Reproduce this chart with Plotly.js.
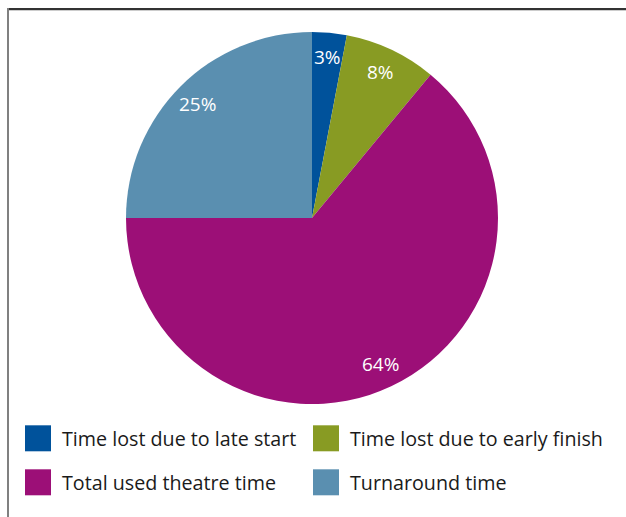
<!DOCTYPE html>
<html>
<head>
<meta charset="utf-8">
<script src="https://cdn.plot.ly/plotly-3.0.1.min.js"></script>
<style>
  html, body { margin: 0; padding: 0; background: #fff; }
  #wrap { position: relative; width: 626px; height: 517px; }
  #chart { width: 626px; height: 517px; }
  #frameTop { position: absolute; left: 7px; top: 8px; width: 619px; height: 2px; background: #333; }
  #frameTop2 { position: absolute; left: 7px; top: 10px; width: 619px; height: 1px; background: #ccc; }
  #frameLeft { position: absolute; left: 7px; top: 8px; width: 2px; height: 509px; background: #808080; }
</style>
</head>
<body>
<div id="wrap">
  <div id="chart"></div>
  <div id="frameTop"></div>
  <div id="frameTop2"></div>
  <div id="frameLeft"></div>
</div>
<script>
const categories = [
  "Time lost due to late start",
  "Time lost due to early finish",
  "Total used theatre time",
  "Turnaround time"
];
const values = [3, 8, 64, 25];
const colors = ["#00529B", "#889B23", "#9C0F77", "#5A8FB0"];

// pie geometry (pixels)
const W = 626, H = 517;
const CX = 312, CY = 218, R = 186;
const LABEL_R = 0.87;

const trace = {
  type: "pie",
  labels: categories,
  values: values,
  sort: false,
  direction: "clockwise",
  rotation: 0,
  marker: { colors: colors, line: { width: 0 } },
  textinfo: "none",
  hoverinfo: "label+percent",
  domain: { x: [(CX - R) / W, (CX + R) / W], y: [(H - CY - R) / H, (H - CY + R) / H] }
};

// percentage labels placed at each slice's mid angle
const total = values.reduce((a, b) => a + b, 0);
let cum = 0;
const annotations = values.map(function (v) {
  const mid = (cum + v / 2) / total * 2 * Math.PI;
  cum += v;
  const px = CX + R * LABEL_R * Math.sin(mid);
  const py = CY - R * LABEL_R * Math.cos(mid);
  return {
    xref: "paper", yref: "paper",
    x: px / W, y: (H - py) / H,
    xanchor: "center", yanchor: "middle",
    text: Math.round(v / total * 100) + "%",
    showarrow: false,
    font: { color: "#ffffff", size: 19, family: "Open Sans, sans-serif" }
  };
});

const layout = {
  width: W,
  height: H,
  margin: { l: 0, r: 0, t: 0, b: 0, pad: 0 },
  paper_bgcolor: "#ffffff",
  showlegend: true,
  annotations: annotations,
  legend: {
    orientation: "h",
    x: 22 / W,
    xanchor: "left",
    y: 1 - 419 / H,
    yanchor: "top",
    entrywidth: 243,
    entrywidthmode: "pixels",
    traceorder: "normal",
    font: { family: "Open Sans, sans-serif", size: 19.7, color: "#1a1a1a" },
    itemclick: false,
    itemdoubleclick: false
  }
};

Plotly.newPlot("chart", [trace], layout, { displayModeBar: false, staticPlot: true }).then(function (gd) {
  // enlarge legend swatches to match the reference squares
  gd.querySelectorAll(".legend .legendpoints path").forEach(function (p) {
    p.setAttribute("d", "M9,13H-17V-13H9Z");
  });
  // widen the row spacing of the legend
  const items = Array.from(gd.querySelectorAll(".legend .traces"));
  const pos = items.map(function (g) {
    const m = /translate\(\s*([-\d.]+)[ ,]+([-\d.]+)\s*\)/.exec(g.getAttribute("transform") || "");
    return m ? [parseFloat(m[1]), parseFloat(m[2])] : [0, 0];
  });
  const ys = Array.from(new Set(pos.map(p => p[1]))).sort((a, b) => a - b);
  if (ys.length > 1) {
    const y0 = ys[0], gap = ys[1] - ys[0];
    items.forEach(function (g, i) {
      const ny = y0 + (pos[i][1] - y0) / gap * 44;
      g.setAttribute("transform", "translate(" + pos[i][0] + "," + ny + ")");
    });
  }
  gd.querySelectorAll(".legend [clip-path]").forEach(function (el) { el.removeAttribute("clip-path"); });
  gd.querySelectorAll(".legend .bg").forEach(function (el) { el.setAttribute("height", "120"); });
});
</script>
</body>
</html>
